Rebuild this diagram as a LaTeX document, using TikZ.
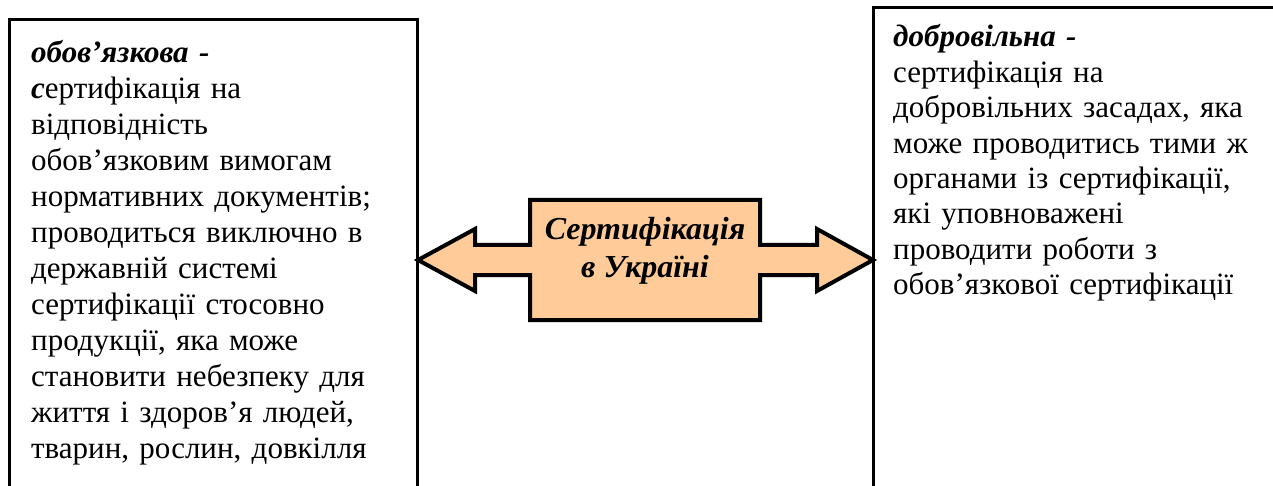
\documentclass[tikz,border=0pt]{standalone}
\usepackage{fontspec}
\setmainfont{Liberation Serif}
\definecolor{peach}{HTML}{FFCC99}
\begin{document}
\begin{tikzpicture}[x=1pt,y=-1pt,
  frame/.style={line width=3pt},
  bodytext/.style={anchor=base west,inner sep=0pt,text width=400pt,align=left},
  arrowshape/.style={draw=black,fill=peach,line width=4pt,line join=miter},
  centertext/.style={inner sep=0pt,align=center,font=\fontsize{32}{38}\selectfont\bfseries\itshape}]
\useasboundingbox (0,0) rectangle (1273,486);
% left box
\draw[frame] (9,490) -- (9,20) -- (417,20) -- (417,490);
\node[bodytext,font=\fontsize{31}{36}\selectfont] (left) at (31,63) {\textbf{\textit{обов’язкова -}}\\
\textbf{\textit{с}}ертифікація на\\
відповідність\\
обов’язковим вимогам\\
нормативних документів;\\
проводиться виключно в\\
державній системі\\
сертифікації стосовно\\
продукції, яка може\\
становити небезпеку для\\
життя і здоров’я людей,\\
тварин, рослин, довкілля};
% right box
\draw[frame] (873,490) -- (873,8) -- (1280,8);
\node[bodytext,font=\fontsize{31}{35.4}\selectfont] (right) at (893,47) {\textbf{\textit{добровільна -}}\\
сертифікація на\\
добровільних засадах, яка\\
може проводитись тими ж\\
органами із сертифікації,\\
які уповноважені\\
проводити роботи з\\
обов’язкової сертифікації};
% double arrow
\coordinate (ltip) at (418,260);
\coordinate (rtip) at (873,260);
\draw[arrowshape] (ltip) -- (475,229) -- (475,245) -- (530,245) -- (530,200) -- (760,200) -- (760,245)
  -- (817,245) -- (817,229) -- (rtip) -- (817,291) -- (817,275) -- (760,275) -- (760,320)
  -- (530,320) -- (530,275) -- (475,275) -- (475,291) -- cycle;
\node[centertext] (center) at (645,251) {Сертифікація\\в Україні};
\end{tikzpicture}
\end{document}
